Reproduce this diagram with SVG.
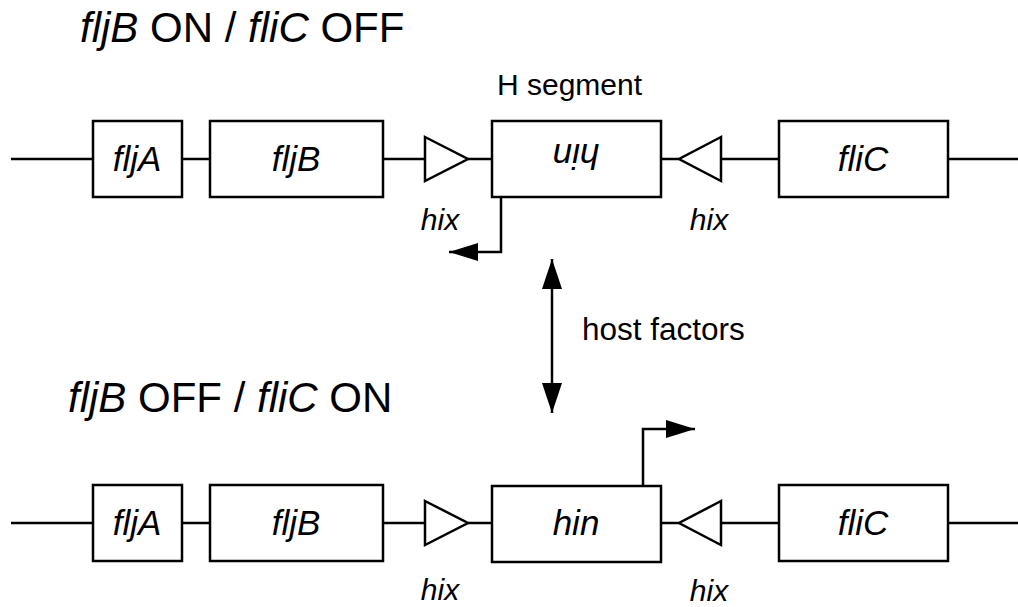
<svg xmlns="http://www.w3.org/2000/svg" width="1018" height="607" viewBox="0 0 1018 607">
<defs>
<style>
.ln{stroke:#000;stroke-width:2.5;fill:none}
.bx{stroke:#000;stroke-width:2.5;fill:#fff}
.tri{stroke:#000;stroke-width:2.5;fill:#fff;stroke-linejoin:miter}
.t{font-family:"Liberation Sans",Arial,sans-serif;fill:#000}
.i{font-style:italic}
.g{font-size:35px;text-anchor:middle;font-style:italic}
.hx{font-size:30px;text-anchor:middle;font-style:italic}
.ti{font-size:42px}
</style>
<marker id="ah" viewBox="0 0 30 20" refX="30" refY="10" markerWidth="30" markerHeight="20" markerUnits="userSpaceOnUse" orient="auto-start-reverse">
<path d="M0,0 L30,10 L0,20 Z" fill="#000"/>
</marker>
<marker id="ap" viewBox="0 0 29 18" refX="29" refY="9" markerWidth="29" markerHeight="18" markerUnits="userSpaceOnUse" orient="auto">
<path d="M0,0 L29,9 L0,18 Z" fill="#000"/>
</marker>
</defs>
<rect width="1018" height="607" fill="#fff"/>

<text class="t ti" x="80" y="42"><tspan class="i">fljB</tspan> ON / <tspan class="i">fliC</tspan> OFF</text>
<text class="t ti" x="68" y="412"><tspan class="i">fljB</tspan> OFF / <tspan class="i">fliC</tspan> ON</text>
<text class="t" x="497" y="95" font-size="30">H segment</text>
<text class="t" x="582" y="340" font-size="31.5">host factors</text>

<g id="connectors">
<path class="ln" d="M11,159 H93 M182,159 H210 M383,159 H425 M468,159 H492 M661,159 H679 M721,159 H779 M948,159 H1018"/>
<path class="ln" d="M11,523 H93 M182,523 H210 M383,523 H425 M468,523 H492 M661,523 H679 M721,523 H779 M948,523 H1018"/>
<path class="ln" d="M501,197 V252 H449" marker-end="url(#ap)"/>
<path class="ln" d="M643,486 V429 H695" marker-end="url(#ap)"/>
<path class="ln" stroke-width="3" d="M552,259 V413" marker-start="url(#ah)" marker-end="url(#ah)"/>
</g>

<g id="top-fljA"><rect class="bx" x="93" y="121" width="89" height="76"/><text class="t g" x="137" y="171">fljA</text></g>
<g id="top-fljB"><rect class="bx" x="210" y="121" width="173" height="76"/><text class="t g" x="296" y="171">fljB</text></g>
<g id="top-hixL"><polygon class="tri" points="425,137 468,159 425,181"/><text class="t hx" x="440" y="230">hix</text></g>
<g id="top-hin"><rect class="bx" x="492" y="121" width="169" height="76"/><text class="t g" x="576" y="171" transform="rotate(180 576 157.5)">hin</text></g>
<g id="top-hixR"><polygon class="tri" points="721,137 679,159 721,181"/><text class="t hx" x="709" y="230">hix</text></g>
<g id="top-fliC"><rect class="bx" x="779" y="121" width="169" height="76"/><text class="t g" x="863" y="171">fliC</text></g>

<g id="bot-fljA"><rect class="bx" x="93" y="485" width="89" height="76"/><text class="t g" x="137" y="535">fljA</text></g>
<g id="bot-fljB"><rect class="bx" x="210" y="485" width="173" height="76"/><text class="t g" x="296" y="535">fljB</text></g>
<g id="bot-hixL"><polygon class="tri" points="425,501 468,523 425,545"/><text class="t hx" x="440" y="600">hix</text></g>
<g id="bot-hin"><rect class="bx" x="492" y="486" width="169" height="76"/><text class="t g" x="576" y="535">hin</text></g>
<g id="bot-hixR"><polygon class="tri" points="721,501 679,523 721,545"/><text class="t hx" x="709" y="601">hix</text></g>
<g id="bot-fliC"><rect class="bx" x="779" y="485" width="169" height="76"/><text class="t g" x="863" y="535">fliC</text></g>
</svg>
